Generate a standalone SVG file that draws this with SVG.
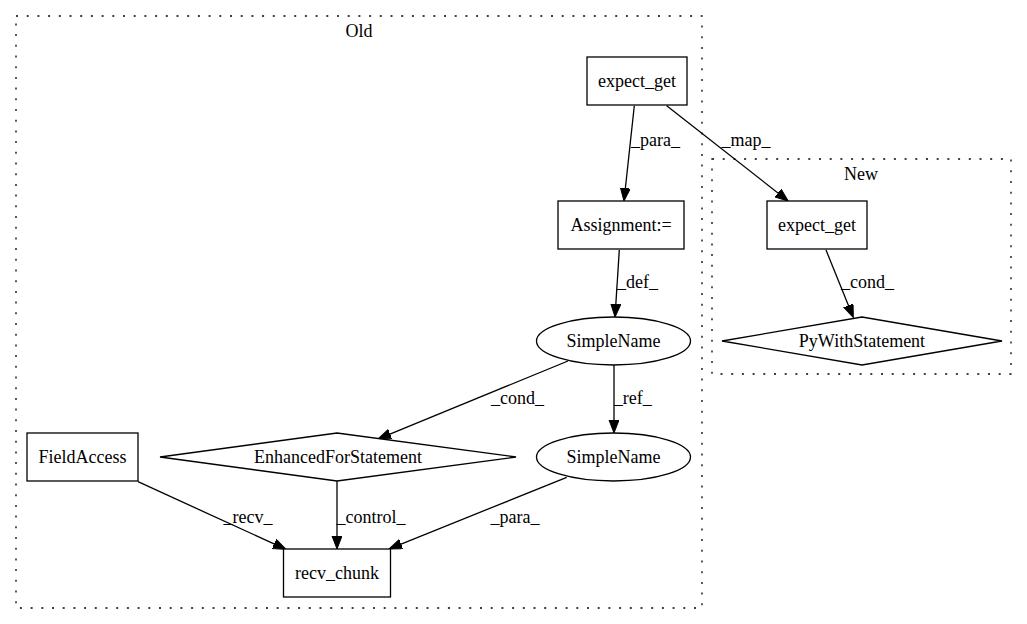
<svg xmlns="http://www.w3.org/2000/svg" width="1027" height="624" viewBox="0 0 1027 624">
<style>
text{font-family:"Liberation Serif","Times New Roman",serif;font-size:18px;fill:#000;text-anchor:middle}
.n{fill:#fff;stroke:#000;stroke-width:1.3}
.c{fill:none;stroke:#000;stroke-width:1.3;stroke-dasharray:2,8.7}
.e{fill:none;stroke:#000;stroke-width:1.3;marker-end:url(#ah)}
</style>
<defs>
<marker id="ah" markerUnits="userSpaceOnUse" markerWidth="14" markerHeight="11" refX="10" refY="5" orient="auto" viewBox="0 0 14 11">
<path d="M0,0 L13,5 L0,10 z" fill="#000" stroke="#000" stroke-width="1"/>
</marker>
</defs>
<rect width="1027" height="624" fill="#fff"/>
<g id="cluster_old">
<rect class="c" x="16" y="16" width="686" height="592"/>
<text x="359" y="37">Old</text>
</g>
<g id="cluster_new">
<rect class="c" x="712" y="159" width="299" height="215"/>
<text x="861" y="180">New</text>
</g>
<g id="edges">
<line class="e" x1="634.3" y1="105.7" x2="624.3" y2="198"/>
<text x="655.5" y="146">_para_</text>
<line class="e" x1="666.7" y1="105.7" x2="785.9" y2="199.2"/>
<text x="746" y="146">_map_</text>
<line class="e" x1="619.3" y1="250" x2="615.2" y2="314"/>
<text x="637.5" y="288">_def_</text>
<line class="e" x1="826" y1="250" x2="852.2" y2="314.7"/>
<text x="867.5" y="288">_cond_</text>
<line class="e" x1="568" y1="361" x2="380.8" y2="437.9"/>
<text x="517.5" y="404">_cond_</text>
<line class="e" x1="614" y1="365" x2="614" y2="430"/>
<text x="632.7" y="404">_ref_</text>
<line class="e" x1="138" y1="481.7" x2="283.3" y2="548.1"/>
<text x="248" y="523">_recv_</text>
<line class="e" x1="337" y1="481" x2="337" y2="546"/>
<text x="371" y="523">_control_</text>
<line class="e" x1="566.7" y1="477.3" x2="391.8" y2="547.9"/>
<text x="515" y="523">_para_</text>
</g>
<g id="node_expect_get_old">
<rect class="n" x="587" y="57" width="100" height="48"/>
<text x="637" y="87">expect_get</text>
</g>
<g id="node_assignment">
<rect class="n" x="558" y="201" width="126" height="48"/>
<text x="621" y="231">Assignment:=</text>
</g>
<g id="node_simplename1">
<ellipse class="n" cx="613.5" cy="341" rx="77" ry="24"/>
<text x="613.5" y="347">SimpleName</text>
</g>
<g id="node_simplename2">
<ellipse class="n" cx="613.5" cy="457" rx="77" ry="24"/>
<text x="613.5" y="463">SimpleName</text>
</g>
<g id="node_enhancedfor">
<polygon class="n" points="160,457 337,433 516,457 337,481"/>
<text x="338" y="463">EnhancedForStatement</text>
</g>
<g id="node_fieldaccess">
<rect class="n" x="27" y="433" width="111" height="48"/>
<text x="82.5" y="463">FieldAccess</text>
</g>
<g id="node_recv_chunk">
<rect class="n" x="283.5" y="549" width="107" height="48"/>
<text x="337" y="579">recv_chunk</text>
</g>
<g id="node_expect_get_new">
<rect class="n" x="767" y="201" width="100" height="48"/>
<text x="817" y="231">expect_get</text>
</g>
<g id="node_pywith">
<polygon class="n" points="722,341 862,317 1002,341 862,365"/>
<text x="862" y="347">PyWithStatement</text>
</g>
</svg>
